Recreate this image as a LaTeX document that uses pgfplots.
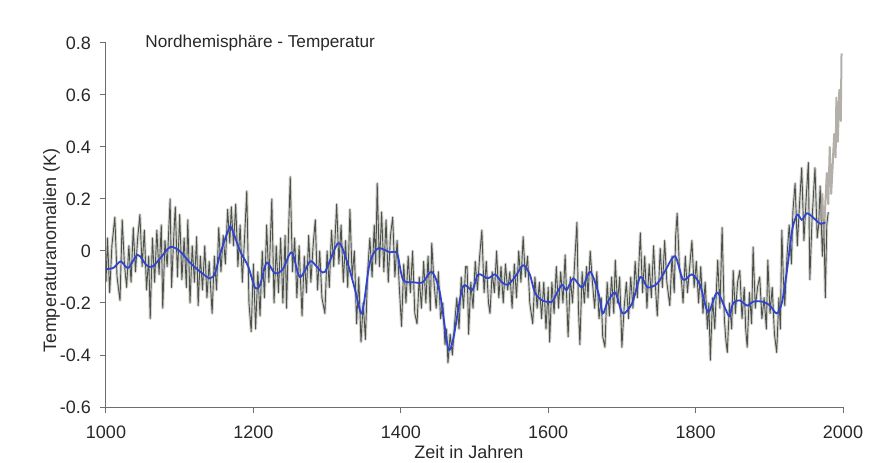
\documentclass[border=0pt]{standalone}
\usepackage{pgfplots}
\usepackage{pgfplotstable}
\pgfplotsset{compat=1.18}
\usepackage{fontspec}
\setmainfont{Liberation Sans}
\definecolor{noise}{RGB}{55,57,50}
\definecolor{halo}{RGB}{130,134,122}
\definecolor{instr}{RGB}{160,156,148}
\definecolor{smooth}{RGB}{48,68,205}
\definecolor{axgray}{RGB}{110,110,110}
\definecolor{txt}{RGB}{40,40,40}
\pgfplotstableread[row sep=\\]{
year temp\\
1000 -0.12\\ 1002 0.05\\ 1005 -0.16\\ 1008 0.02\\ 1012 0.13\\ 1015 -0.10\\ 1019 -0.19\\ 1022 0.12\\ 1025 -0.05\\ 1028 -0.14\\
1031 0.02\\ 1034 -0.12\\ 1037 0.09\\ 1040 -0.08\\ 1043 0.05\\ 1046 0.14\\ 1049 -0.06\\ 1052 0.08\\ 1055 -0.15\\ 1058 -0.02\\
1060 -0.26\\ 1063 0.05\\ 1066 -0.12\\ 1069 0.08\\ 1072 -0.09\\ 1075 0.10\\ 1077 -0.22\\ 1080 0.04\\ 1083 -0.06\\ 1087 0.20\\
1089 -0.14\\ 1092 0.06\\ 1094 0.17\\ 1097 -0.10\\ 1100 0.14\\ 1103 -0.11\\ 1106 0.05\\ 1109 -0.14\\ 1111 0.12\\ 1114 -0.20\\
1117 0.02\\ 1120 -0.12\\ 1123 0.055\\ 1125 -0.21\\ 1128 -0.02\\ 1131 -0.15\\ 1134 0.02\\ 1137 -0.18\\ 1140 -0.04\\ 1144 -0.24\\
1147 -0.02\\ 1150 -0.15\\ 1153 0.09\\ 1156 -0.08\\ 1159 0.06\\ 1162 -0.05\\ 1165 0.16\\ 1168 0.03\\ 1170 0.17\\ 1173 0.02\\
1176 0.18\\ 1179 -0.06\\ 1182 0.10\\ 1185 -0.12\\ 1188 0.05\\ 1191 0.23\\ 1194 -0.20\\ 1197 -0.31\\ 1200 -0.05\\ 1203 -0.30\\
1206 -0.08\\ 1209 -0.25\\ 1212 0.00\\ 1215 -0.18\\ 1218 0.10\\ 1221 -0.12\\ 1225 0.20\\ 1228 -0.20\\ 1231 0.02\\ 1234 -0.16\\
1237 0.05\\ 1240 -0.20\\ 1243 0.06\\ 1245 -0.22\\ 1248 0.10\\ 1250 0.285\\ 1253 -0.08\\ 1256 0.05\\ 1259 -0.18\\ 1262 0.02\\
1266 -0.25\\ 1269 -0.02\\ 1272 -0.16\\ 1275 0.06\\ 1278 -0.12\\ 1281 0.02\\ 1284 0.12\\ 1287 -0.15\\ 1290 0.00\\ 1293 -0.18\\
1297 -0.24\\ 1300 0.00\\ 1303 -0.14\\ 1306 0.08\\ 1309 -0.06\\ 1313 0.18\\ 1316 -0.05\\ 1319 0.10\\ 1322 -0.12\\ 1325 0.04\\
1328 -0.14\\ 1331 0.16\\ 1334 -0.10\\ 1337 0.00\\ 1340 -0.28\\ 1343 -0.10\\ 1346 -0.35\\ 1349 -0.20\\ 1352 -0.34\\ 1355 -0.08\\
1358 0.05\\ 1361 -0.10\\ 1364 0.10\\ 1366 -0.05\\ 1368 0.26\\ 1371 -0.06\\ 1374 0.15\\ 1377 -0.08\\ 1380 0.12\\ 1383 -0.12\\
1386 0.06\\ 1389 0.13\\ 1392 -0.10\\ 1395 0.04\\ 1398 -0.14\\ 1401 -0.29\\ 1404 -0.05\\ 1407 -0.20\\ 1410 -0.02\\ 1413 -0.16\\
1416 0.00\\ 1419 -0.24\\ 1422 -0.28\\ 1425 -0.10\\ 1428 -0.22\\ 1431 -0.04\\ 1434 -0.20\\ 1437 -0.02\\ 1440 -0.23\\ 1442 0.03\\
1445 -0.12\\ 1448 -0.22\\ 1451 -0.08\\ 1454 -0.26\\ 1457 -0.20\\ 1460 -0.36\\ 1462 -0.30\\ 1464 -0.43\\ 1467 -0.32\\ 1470 -0.40\\
1473 -0.28\\ 1476 -0.18\\ 1479 -0.30\\ 1482 -0.10\\ 1485 -0.22\\ 1488 -0.06\\ 1490 -0.06\\ 1492 -0.32\\ 1495 -0.12\\ 1498 -0.22\\
1501 -0.04\\ 1504 -0.15\\ 1507 -0.02\\ 1510 0.08\\ 1513 -0.16\\ 1516 -0.04\\ 1519 -0.20\\ 1521 -0.24\\ 1524 -0.08\\ 1527 -0.16\\
1530 0.00\\ 1533 -0.18\\ 1536 -0.06\\ 1539 -0.20\\ 1542 -0.05\\ 1545 -0.15\\ 1548 -0.08\\ 1551 -0.22\\ 1554 -0.05\\ 1557 -0.18\\
1560 0.00\\ 1563 -0.12\\ 1566 0.055\\ 1569 -0.10\\ 1572 -0.02\\ 1575 -0.20\\ 1579 -0.28\\ 1582 -0.10\\ 1585 -0.22\\ 1588 -0.12\\
1591 -0.26\\ 1594 -0.12\\ 1597 -0.30\\ 1600 -0.14\\ 1602 -0.35\\ 1605 -0.12\\ 1608 -0.24\\ 1611 -0.06\\ 1614 -0.22\\ 1617 -0.08\\
1620 -0.20\\ 1623 -0.015\\ 1627 -0.33\\ 1630 -0.10\\ 1633 -0.20\\ 1636 -0.04\\ 1639 0.11\\ 1641 -0.22\\ 1643 -0.36\\ 1646 -0.08\\
1649 -0.20\\ 1652 -0.06\\ 1654 -0.18\\ 1657 0.00\\ 1660 -0.12\\ 1663 -0.22\\ 1666 -0.08\\ 1669 -0.26\\ 1672 -0.18\\ 1674 -0.33\\
1677 -0.37\\ 1680 -0.12\\ 1683 -0.25\\ 1686 -0.10\\ 1689 -0.24\\ 1691 -0.035\\ 1694 -0.20\\ 1697 -0.10\\ 1700 -0.37\\ 1703 -0.22\\
1706 -0.12\\ 1709 -0.26\\ 1712 -0.10\\ 1715 -0.22\\ 1718 -0.04\\ 1721 -0.18\\ 1725 0.07\\ 1728 -0.16\\ 1731 -0.02\\ 1734 -0.22\\
1737 -0.05\\ 1740 -0.18\\ 1743 0.02\\ 1746 -0.16\\ 1748 -0.25\\ 1752 0.01\\ 1755 -0.14\\ 1758 0.04\\ 1761 -0.12\\ 1765 -0.21\\
1768 -0.02\\ 1771 -0.16\\ 1773 0.06\\ 1775 0.145\\ 1778 -0.06\\ 1781 -0.12\\ 1783 -0.20\\ 1786 -0.02\\ 1789 -0.16\\ 1792 -0.06\\
1795 0.04\\ 1798 -0.14\\ 1801 -0.04\\ 1804 -0.20\\ 1807 -0.06\\ 1810 -0.24\\ 1813 -0.12\\ 1816 -0.30\\ 1818 -0.20\\ 1820 -0.42\\
1823 -0.18\\ 1826 -0.30\\ 1830 -0.035\\ 1833 -0.22\\ 1836 0.09\\ 1839 -0.26\\ 1841 -0.34\\ 1843 -0.39\\ 1846 -0.20\\ 1849 -0.30\\
1851 -0.075\\ 1854 -0.24\\ 1857 -0.12\\ 1860 -0.075\\ 1863 -0.26\\ 1866 -0.14\\ 1868 -0.30\\ 1870 -0.37\\ 1873 -0.16\\ 1876 -0.28\\
1878 0.015\\ 1881 -0.22\\ 1884 -0.14\\ 1887 -0.10\\ 1890 -0.26\\ 1893 -0.18\\ 1896 -0.30\\ 1898 -0.035\\ 1901 -0.24\\ 1904 -0.14\\
1907 -0.32\\ 1910 -0.39\\ 1913 -0.18\\ 1915 -0.30\\ 1917 0.08\\ 1919 -0.10\\ 1921 -0.21\\ 1924 -0.02\\ 1927 0.10\\ 1930 -0.05\\
1932 0.15\\ 1935 0.26\\ 1938 0.02\\ 1941 0.18\\ 1944 0.32\\ 1947 0.04\\ 1950 0.20\\ 1953 0.34\\ 1955 -0.11\\ 1958 0.12\\
1962 0.32\\ 1965 0.05\\ 1967 0.10\\ 1969 0.25\\ 1972 -0.02\\ 1974 0.12\\ 1976 -0.18\\ 1978 0.10\\ 1980 0.15\\
}\recon
\pgfplotstableread[row sep=\\]{
year temp\\
1970 0.12\\ 1972 0.22\\ 1974 0.05\\ 1976 0.18\\ 1978 0.30\\ 1980 0.18\\ 1982 0.40\\ 1984 0.22\\ 1986 0.33\\ 1988 0.45\\
1990 0.36\\ 1991 0.59\\ 1993 0.42\\ 1995 0.62\\ 1997 0.50\\ 1998 0.76\\
}\instrument
\begin{document}
\begin{tikzpicture}
\useasboundingbox (-53pt,-27.5pt) rectangle (381.5pt,203.5pt);
\begin{axis}[
  at={(0pt,0pt)}, anchor=south west,
  scale only axis, width=368.5pt, height=182pt,
  xmin=1000, xmax=2000, ymin=-0.6, ymax=0.8,
  enlargelimits=false,
  axis lines*=left,
  axis line style={axgray, line width=0.5pt},
  tick style={axgray, line width=0.5pt},
  major tick length=3pt, tick align=outside,
  xtick={1000,1200,1400,1600,1800,2000},
  xticklabels={1000,1200,1400,1600,1800,2000},
  ytick={-0.6,-0.4,-0.2,0,0.2,0.4,0.6,0.8},
  yticklabels={-0.6,-0.4,-0.2,0,0.2,0.4,0.6,0.8},
  tick label style={font=\fontsize{9}{10}\selectfont, text=txt},
  xticklabel style={yshift=-3pt},
  yticklabel style={xshift=-1pt},
  xlabel={Zeit in Jahren},
  ylabel={Temperaturanomalien (K)},
  label style={font=\fontsize{9}{10}\selectfont, text=txt},
  xlabel style={at={(axis description cs:0.4925,0)}, anchor=center, yshift=-22.5pt},
  ylabel style={at={(axis description cs:-0.074,0.43)}, anchor=center},
  clip mode=individual,
]
% annual reconstruction: soft halo, then dark line
\addplot[color=halo, line width=1.5pt, line join=round, opacity=0.35] table[x=year, y=temp] {\recon};
\addplot[color=noise, line width=0.45pt, line join=round, opacity=0.85] table[x=year, y=temp] {\recon};
% instrumental record (light grey)
\addplot[color=instr, line width=1.0pt, line join=round, opacity=0.8] table[x=year, y=temp] {\instrument};
% smoothed curve (blue)
\addplot[color=smooth, line width=0.9pt, smooth, tension=0.5] coordinates {
(1000,-0.07) (1010,-0.065) (1020,-0.04) (1030,-0.065) (1043,-0.015) (1055,-0.055) (1063,-0.06) (1073,-0.03) (1087,0.015) (1100,0.0)
(1114,-0.045) (1128,-0.08) (1141,-0.105) (1148,-0.085) (1155,-0.01) (1166,0.08) (1170,0.09) (1182,0.0) (1193,-0.06) (1202,-0.14)
(1209,-0.13) (1218,-0.045) (1229,-0.085) (1240,-0.07) (1252,-0.005) (1263,-0.1) (1277,-0.04) (1286,-0.06) (1297,-0.08) (1315,0.03)
(1327,-0.04) (1338,-0.15) (1346,-0.24) (1350,-0.2) (1358,-0.045) (1369,0.01) (1385,-0.005) (1395,-0.01) (1403,-0.11) (1417,-0.12)
(1430,-0.12) (1442,-0.08) (1453,-0.16) (1464,-0.37) (1471,-0.34) (1484,-0.14) (1497,-0.15) (1505,-0.09) (1518,-0.105) (1528,-0.09)
(1537,-0.12) (1545,-0.13) (1555,-0.10) (1566,-0.055) (1575,-0.09) (1582,-0.16) (1592,-0.19) (1605,-0.195) (1612,-0.16) (1619,-0.13)
(1625,-0.15) (1634,-0.105) (1646,-0.14) (1657,-0.08) (1668,-0.16) (1674,-0.24) (1680,-0.2) (1691,-0.16) (1701,-0.24) (1714,-0.2)
(1725,-0.10) (1735,-0.14) (1748,-0.125) (1758,-0.08) (1772,-0.02) (1783,-0.11) (1795,-0.09) (1806,-0.13) (1817,-0.235) (1829,-0.16)
(1840,-0.22) (1846,-0.25) (1851,-0.2) (1860,-0.19) (1870,-0.21) (1878,-0.195) (1891,-0.195) (1901,-0.21) (1910,-0.24) (1917,-0.2)
(1924,-0.075) (1931,0.08) (1938,0.14) (1944,0.12) (1951,0.145) (1959,0.13) (1969,0.105) (1976,0.11)
};
\node[anchor=west, font=\fontsize{8.6}{10}\selectfont, text=txt, inner sep=0pt] at (axis cs:1053,0.8) {Nordhemisphäre - Temperatur};
\end{axis}
\end{tikzpicture}
\end{document}
